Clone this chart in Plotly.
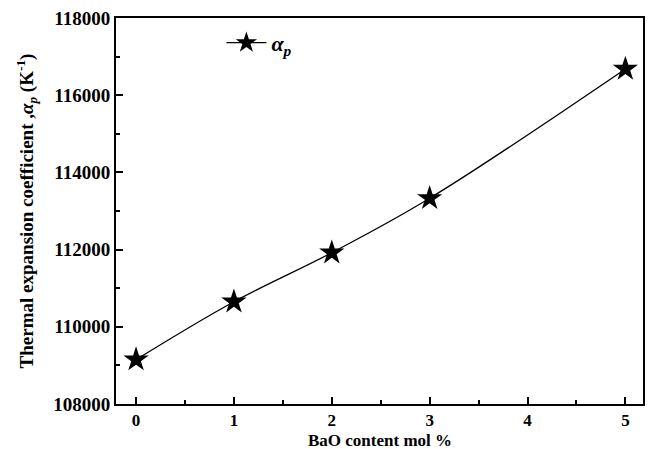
import plotly.graph_objects as go

bao_content = [0, 1, 2, 3, 5]
alpha_p = [109150, 110650, 111920, 113330, 116680]
x_ticks = [0, 1, 2, 3, 4, 5]
y_ticks = [108000, 110000, 112000, 114000, 116000, 118000]

font_family = "Liberation Serif, Times New Roman, serif"

fig = go.Figure()
fig.add_trace(go.Scatter(
    x=bao_content, y=alpha_p,
    mode="lines+markers",
    name="<i>α<sub>p</sub></i>",
    line=dict(color="black", width=1.3, shape="spline"),
    marker=dict(symbol="star", size=19, color="black"),
))

fig.update_layout(
    width=648, height=449,
    margin=dict(l=116, r=5, t=18, b=45),
    paper_bgcolor="white", plot_bgcolor="white",
    font=dict(family=font_family, size=18, color="black", weight="bold"),
    showlegend=True,
    legend=dict(x=0.2, y=0.99, xanchor="left", yanchor="top",
                bgcolor="rgba(0,0,0,0)",
                font=dict(size=22, family=font_family, weight="bold"),
                itemwidth=40),
    xaxis=dict(
        range=[-0.205, 5.18], tickvals=x_ticks,
        ticks="inside", ticklen=7, tickwidth=2, tickcolor="black",
        minor=dict(dtick=0.5, ticks="inside", ticklen=4, tickwidth=2, tickcolor="black"),
        showline=True, linewidth=2, linecolor="black", mirror=True,
        showgrid=False, zeroline=False, automargin=False,
        tickfont=dict(size=17, family=font_family, weight="bold"),
    ),
    yaxis=dict(
        range=[108000, 118000], tickvals=y_ticks,
        tickformat="d",
        ticks="inside", ticklen=7, tickwidth=2, tickcolor="black",
        minor=dict(dtick=1000, ticks="inside", ticklen=4, tickwidth=2, tickcolor="black"),
        showline=True, linewidth=2, linecolor="black", mirror=True,
        showgrid=False, zeroline=False, automargin=False,
        tickfont=dict(size=19, family=font_family, weight="bold"),
        title=dict(text="Thermal expansion coefficient ,<i>α<sub>p</sub></i> (K<sup>-1</sup>)",
                   font=dict(size=19, family=font_family, weight="bold"), standoff=15),
    ),
    annotations=[dict(
        text="BaO content mol %", xref="paper", yref="paper",
        x=0.5, y=-0.095, xanchor="center", yanchor="middle", showarrow=False,
        font=dict(size=17, family=font_family, weight="bold"),
    )],
)

fig.write_html("out.html",
               config={"displayModeBar": False},
               post_script="document.body.style.margin='0';document.body.style.overflow='hidden';")
